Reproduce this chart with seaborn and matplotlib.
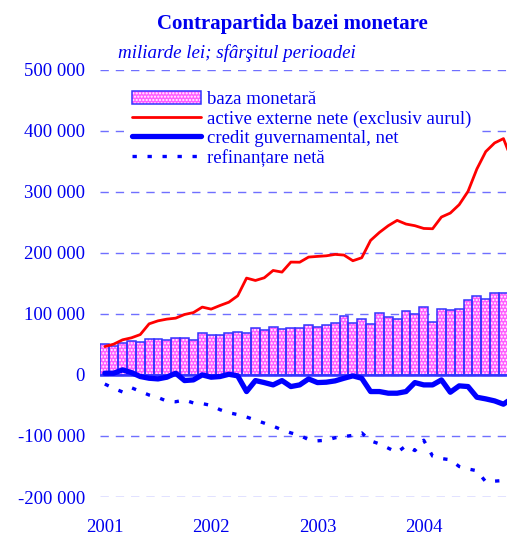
import numpy as np
import pandas as pd
import seaborn as sns
import matplotlib.pyplot as plt
from matplotlib.patches import Patch
from matplotlib.lines import Line2D

# monthly data, Jan 2001 onwards (miliarde lei, end of period)
years = ['2001', '2002', '2003', '2004']
baza = [50800, 48000, 52000, 56000, 53600, 59500, 58500, 56900, 61000, 60700,
        57900, 67800, 66000, 65000, 69000, 70000, 68900, 76500, 73800, 78100,
        74900, 76500, 76000, 80900, 78100, 82500, 84700, 96700, 84700, 92300,
        83600, 101000, 94000, 91300, 104400, 98900, 110400, 86300, 108700, 107000,
        107600, 122400, 128400, 124000, 133900, 133300]
active = [46400, 50300, 57400, 60700, 66000, 83600, 88500, 91300, 92900, 98900,
          102000, 111000, 107700, 113600, 119000, 129500, 158500, 154600, 159000, 171000,
          168300, 184700, 184500, 192900, 194000, 195000, 197300, 196200, 186900, 191800,
          220200, 233300, 244300, 253000, 247000, 244300, 239800, 239300, 258500, 265000,
          278700, 300500, 337200, 365600, 379800, 386900, 350000]
credit = [2700, 2700, 8200, 3800, -2700, -5500, -6600, -3800, 2700, -9300,
          -8200, 0, -3800, -2700, 1000, -1600, -27300, -9300, -12600, -16400,
          -9300, -19100, -16400, -6600, -12600, -12000, -9800, -5500, -1600, -5500,
          -27300, -27300, -30000, -30000, -27300, -12600, -16400, -16400, -8200, -28400,
          -18000, -19100, -36600, -39300, -42600, -48000, -38000]
refin = [-15000, -22000, -28000, -21000, -27000, -33000, -37000, -43000, -44000, -41000,
         -46000, -47000, -50000, -57000, -62000, -65000, -69000, -74000, -79000, -84000,
         -90000, -95000, -99000, -106000, -108000, -107000, -103000, -101000, -99000, -95000,
         -108000, -113000, -120000, -127000, -116000, -124000, -107000, -133000, -137000, -139000,
         -150000, -154000, -157000, -175000, -174000, -173000, -172000]

bars = pd.DataFrame({'luna': range(len(baza)), 'baza': baza})
lines = pd.DataFrame({'luna': range(len(active)), 'active': active,
                      'credit': credit, 'refin': refin})

sns.set_style('white')
plt.rcParams['font.family'] = ['Liberation Serif', 'DejaVu Serif']
blue = '#0000ee'
pink = '#ff5cff'
edge = '#3333ff'

fig = plt.figure(figsize=(5.07, 5.35), dpi=100)
ax = fig.add_axes([0.198, 0.071, 0.802, 0.799])

# bars: pink fill with white dots, then blue outline on top
sns.barplot(data=bars, x='luna', y='baza', color=pink, saturation=1, width=1,
            ax=ax, zorder=2)
for p in ax.patches:
    p.set_facecolor(pink)
    p.set_edgecolor('white')
    p.set_hatch('.....')
    p.set_linewidth(0)
sns.barplot(data=bars, x='luna', y='baza', fill=False, color=edge, width=1,
            linewidth=1.1, ax=ax, zorder=3)

ax.axhline(0, color=edge, lw=1.8, zorder=4)

sns.lineplot(data=lines, x='luna', y='active', color='#ff0000', lw=2, ax=ax, zorder=5)
sns.lineplot(data=lines, x='luna', y='credit', color='#0000ff', lw=3.8, ax=ax, zorder=6)
sns.lineplot(data=lines, x='luna', y='refin', color='#0000ff', lw=2.4,
             linestyle=(0, (1.3, 3.2)), ax=ax, zorder=6)

ax.set_xlim(-0.5, 45.4)
ax.set_ylim(-200000, 500000)
yt = list(range(-200000, 500001, 100000))
ax.set_yticks(yt, [f'{v:,}'.replace(',', ' ') for v in yt])
ax.set_xticks([0, 12, 24, 36], years)
ax.tick_params(axis='both', length=0, labelsize=13.5, labelcolor=blue)
ax.tick_params(axis='y', pad=11)
ax.tick_params(axis='x', pad=16)
ax.set_xlabel('')
ax.set_ylabel('')
ax.yaxis.grid(True, linestyle=(0, (6, 5)), color='#6f6fff', lw=1)
ax.set_axisbelow(True)
for s in ax.spines.values():
    s.set_visible(False)

h_bar = (Patch(facecolor=pink, edgecolor='white', hatch='.....', lw=0),
         Patch(facecolor='none', edgecolor=edge, lw=1.1))
handles = [h_bar,
           Line2D([], [], color='#ff0000', lw=2),
           Line2D([], [], color='#0000ff', lw=3.8),
           Line2D([], [], color='#0000ff', lw=2.4, linestyle=(0, (1.3, 3.2)))]
labels = ['baza monetară', 'active externe nete (exclusiv aurul)',
          'credit guvernamental, net', 'refinanțare netă']
leg = ax.legend(handles, labels, loc='upper left', bbox_to_anchor=(115 / 507, 1 - 74 / 535),
                bbox_transform=fig.transFigure, fontsize=13.5, labelcolor=blue,
                handlelength=3.7, handletextpad=0.3, labelspacing=0.12,
                borderpad=0.4, frameon=True, fancybox=False)
leg.get_frame().set_facecolor('white')
leg.get_frame().set_edgecolor('none')
leg.get_frame().set_alpha(1)
# above the grid, below the red line that rises past its corner
leg.set_zorder(4.5)

fig.text(292 / 507, 1 - 29 / 535, 'Contrapartida bazei monetare', ha='center',
         va='baseline', fontsize=15, fontweight='bold', color=blue)
fig.text(118 / 507, 1 - 58 / 535, 'miliarde lei; sfârşitul perioadei', ha='left',
         va='baseline', fontsize=13.7, fontstyle='italic', color=blue)

fig.savefig('out.png', dpi=100)
